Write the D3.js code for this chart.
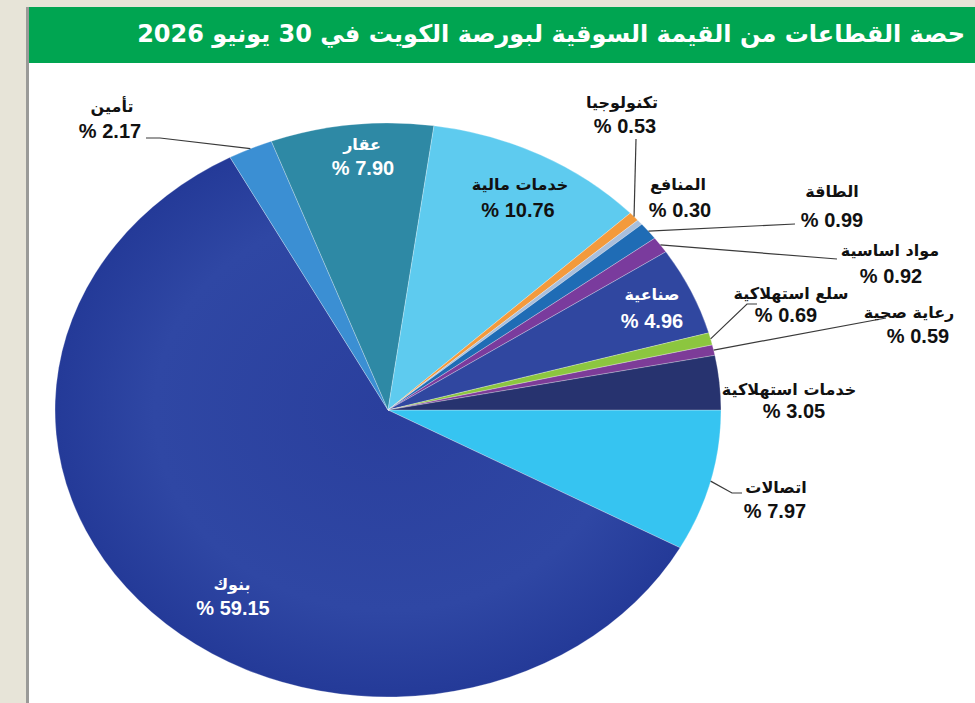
<!DOCTYPE html>
<html>
<head>
<meta charset="utf-8">
<script src="https://cdn.jsdelivr.net/npm/d3@7"></script>
<style>
  body { margin: 0; background: #ffffff; }
  svg { display: block; }
</style>
</head>
<body>
<div id="canvas"></div>
<script>
var width = 975;
var height = 703;

// Data, clockwise from 3 o'clock
const sectors = ["اتصالات", "بنوك", "تأمين", "عقار", "خدمات مالية", "تكنولوجيا", "المنافع",
                 "الطاقة", "مواد اساسية", "صناعية", "سلع استهلاكية", "رعاية صحية", "خدمات استهلاكية"];
const shares = [7.97, 59.15, 2.17, 7.90, 10.76, 0.53, 0.30, 0.99, 0.92, 4.96, 0.69, 0.59, 3.05];
const valueLabels = ["7.97", "59.15", "2.17", "7.90", "10.76", "0.53", "0.30", "0.99", "0.92", "4.96", "0.69", "0.59", "3.05"];

const colors = ["#36c4f1", "#2b41a0", "#3b8fd3", "#2e89a5", "#5ecbef", "#f39a3c", "#a9bfdc",
                "#1f6cb5", "#7a3b9d", "#3047a0", "#8cc63f", "#7d3c98", "#27336f"];

// label layout: name position, value position, text colour, leader line end points (null = no line)
const labelLayout = [
    { nx: 776, ny: 493, vx: 775, vy: 518, fill: "#111", line: [[742, 493], [732, 493]] },
    { nx: 232, ny: 590, vx: 233, vy: 615, fill: "#fff", line: null },
    { nx: 112, ny: 112, vx: 110, vy: 138, fill: "#111", line: [[146, 138], [160, 138]] },
    { nx: 362, ny: 150, vx: 363, vy: 175, fill: "#fff", line: null },
    { nx: 520, ny: 190, vx: 518, vy: 217, fill: "#111", line: null },
    { nx: 622, ny: 108, vx: 625, vy: 133, fill: "#111", line: [[636, 139]] },
    { nx: 678, ny: 190, vx: 680, vy: 217, fill: "#111", line: null },
    { nx: 832, ny: 197, vx: 832, vy: 227, fill: "#111", line: [[795, 224]] },
    { nx: 890, ny: 256, vx: 891, vy: 283, fill: "#111", line: [[837, 259]] },
    { nx: 652, ny: 300, vx: 652, vy: 328, fill: "#fff", line: null },
    { nx: 791, ny: 299, vx: 786, vy: 322, fill: "#111", line: [[757, 304], [747, 304]] },
    { nx: 909, ny: 318, vx: 918, vy: 343, fill: "#111", line: [[886, 318]] },
    { nx: 789, ny: 395, vx: 794, vy: 418, fill: "#111", line: null }
];

const title = "حصة القطاعات من القيمة السوقية لبورصة الكويت في 30 يونيو 2026";

const cx = 388, cy = 410, rx = 333, ry = 287;

var svg = d3.select("#canvas").append("svg")
    .attr("width", width)
    .attr("height", height)
    .style("background-color", "white");

// page frame
svg.append("rect").attr("x", 0).attr("y", 0).attr("width", width).attr("height", 7).attr("fill", "#e7e4d8");
svg.append("rect").attr("x", 0).attr("y", 0).attr("width", 26).attr("height", height).attr("fill", "#e7e4d8");
svg.append("rect").attr("x", 26).attr("y", 7).attr("width", 3).attr("height", height).attr("fill", "#9a9a98");

// title bar
svg.append("rect").attr("x", 29).attr("y", 7).attr("width", width - 29).attr("height", 56).attr("fill", "#00a551");
svg.append("text")
    .attr("x", 965).attr("y", 42)
    .attr("text-anchor", "start")
    .attr("direction", "rtl")
    .style("font-family", "'DejaVu Sans', sans-serif")
    .style("font-weight", "bold")
    .style("font-size", "24px")
    .attr("fill", "#fff")
    .text(title);

// gradient for the big slice
const defs = svg.append("defs");
const grad = defs.append("radialGradient").attr("id", "banks")
    .attr("gradientUnits", "userSpaceOnUse")
    .attr("cx", 0).attr("cy", 0).attr("r", rx);
grad.append("stop").attr("offset", "0%").attr("stop-color", "#2a3f9d");
grad.append("stop").attr("offset", "70%").attr("stop-color", "#2f47a4");
grad.append("stop").attr("offset", "100%").attr("stop-color", "#243a98");

const pie = d3.pie()
    .sort(null)
    .value(d => d)
    .startAngle(Math.PI / 2)
    .endAngle(Math.PI / 2 + 2 * Math.PI);

const arcs = pie(shares);

const arc = d3.arc().innerRadius(0).outerRadius(rx);

// tilted pie: squash vertically
const g = svg.append("g")
    .attr("transform", `translate(${cx},${cy}) scale(1,${ry / rx})`);

g.selectAll(".slice")
    .data(arcs)
    .enter().append("path")
    .attr("class", "slice")
    .attr("d", arc)
    .attr("fill", (d, i) => i === 1 ? "url(#banks)" : colors[i])
    .attr("stroke", "rgba(255,255,255,0.45)")
    .attr("stroke-width", 0.6)
    .attr("vector-effect", "non-scaling-stroke");

// rim point at mid angle of slice
const rimPoint = d => {
    const a = (d.startAngle + d.endAngle) / 2;
    return [cx + rx * Math.sin(a), cy - ry * Math.cos(a)];
};

// leader lines
arcs.forEach((d, i) => {
    const lay = labelLayout[i];
    if (!lay.line) return;
    const pts = lay.line.concat([rimPoint(d)]);
    svg.append("path")
        .attr("d", d3.line()(pts))
        .attr("fill", "none")
        .attr("stroke", "#3a3a3a")
        .attr("stroke-width", 1.2);
});

// labels
const labels = svg.selectAll(".label")
    .data(arcs)
    .enter().append("g")
    .attr("class", "label");

labels.append("text")
    .attr("x", (d, i) => labelLayout[i].nx)
    .attr("y", (d, i) => labelLayout[i].ny)
    .attr("text-anchor", "middle")
    .attr("direction", "rtl")
    .style("font-family", "'DejaVu Sans', sans-serif")
    .style("font-weight", "bold")
    .style("font-size", "16px")
    .attr("fill", (d, i) => labelLayout[i].fill)
    .text((d, i) => sectors[i]);

labels.append("text")
    .attr("x", (d, i) => labelLayout[i].vx)
    .attr("y", (d, i) => labelLayout[i].vy)
    .attr("text-anchor", "middle")
    .style("font-family", "'Liberation Sans', Arial, sans-serif")
    .style("font-weight", "bold")
    .style("font-size", "20px")
    .attr("fill", (d, i) => labelLayout[i].fill)
    .text((d, i) => "% " + valueLabels[i]);
</script>
</body>
</html>
